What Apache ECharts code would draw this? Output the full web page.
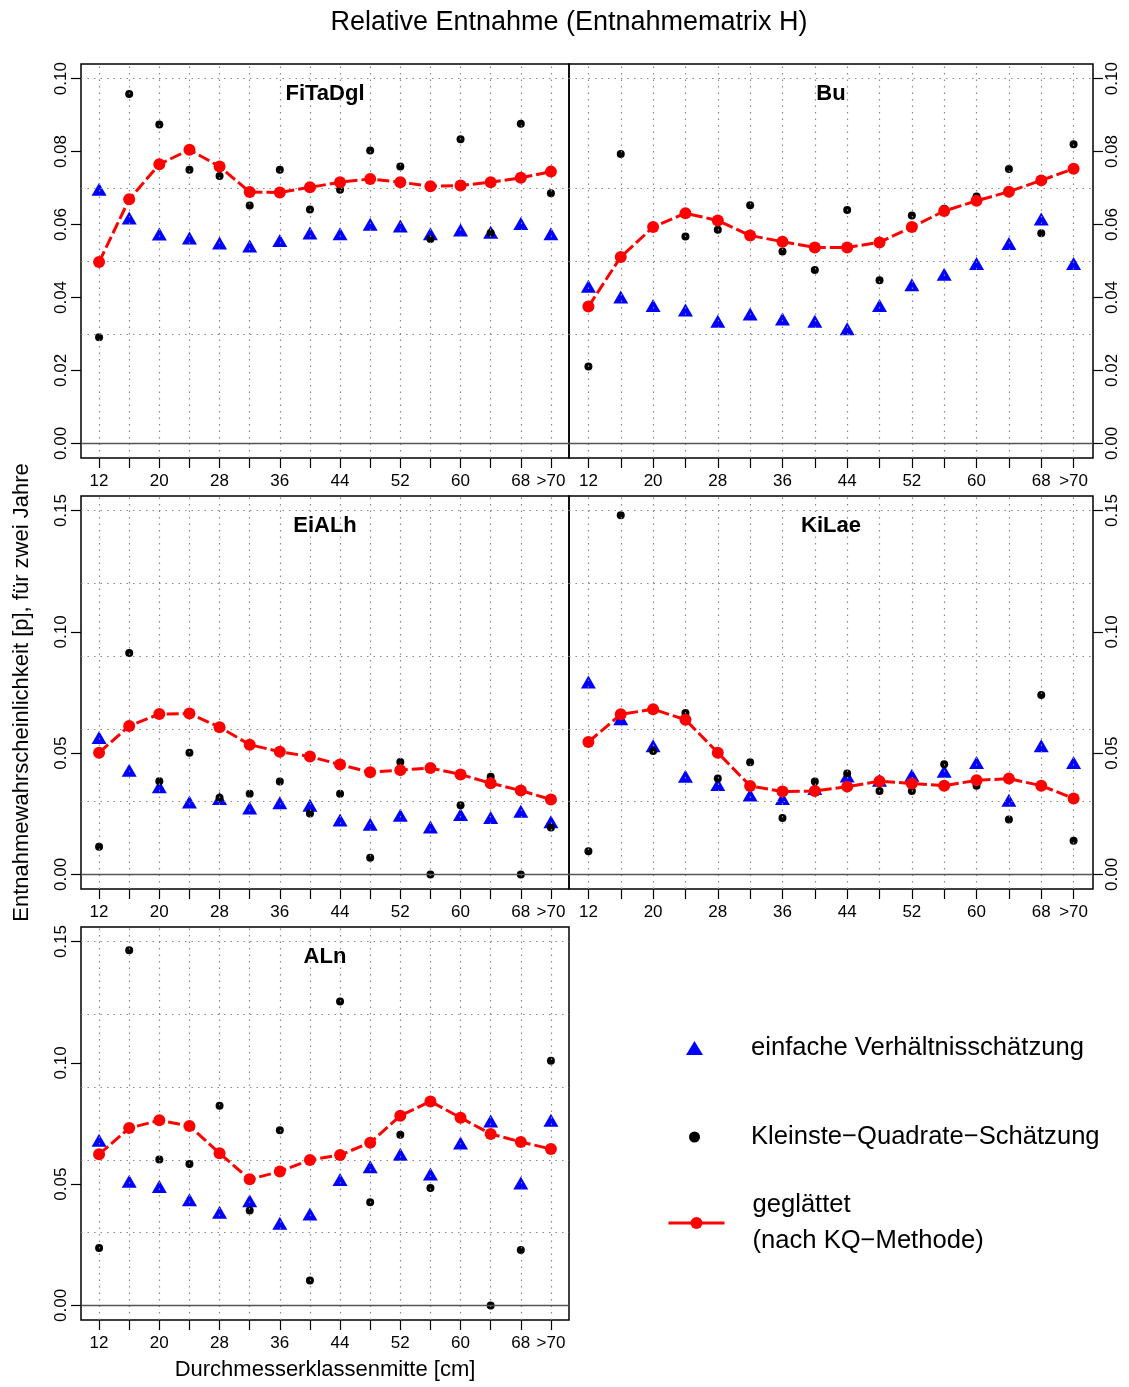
<!DOCTYPE html>
<html><head><meta charset="utf-8">
<script src="https://cdn.jsdelivr.net/npm/echarts@6/dist/echarts.min.js"></script>
<style>html,body{margin:0;padding:0;background:#fff}#c{width:1129px;height:1387px}</style>
</head><body><div id="c"></div>
<script>
// ---- data ----
const classMid = [12,16,20,24,28,32,36,40,44,48,52,56,60,64,68,72];
const xTickLabelPos = [12,20,28,36,44,52,60,68,72];
const xTickLabels = ['12','20','28','36','44','52','60','68','>70'];
const yTicksA = [0,0.02,0.04,0.06,0.08,0.10];
const yTicksB = [0,0.05,0.10,0.15];
const hLinesA = [0.025,0.05,0.075,0.10];
const hLinesB = [0.03,0.06,0.09,0.12,0.15];
const seriesNames = ['einfache Verhältnisschätzung','Kleinste\u2212Quadrate\u2212Schätzung','geglättet\n(nach KQ\u2212Methode)'];

const fitaTri = [0.0697,0.0618,0.0574,0.0563,0.0549,0.0541,0.0556,0.0577,0.0575,0.0601,0.0596,0.0575,0.0585,0.0579,0.0603,0.0575];
const fitaKQ  = [0.0291,0.0958,0.0874,0.0750,0.0733,0.0652,0.0750,0.0641,0.0695,0.0803,0.0759,0.0560,0.0834,0.0577,0.0876,0.0686];
const fitaSm  = [0.0497,0.0669,0.0765,0.0805,0.0759,0.0689,0.0688,0.0702,0.0716,0.0725,0.0716,0.0705,0.0707,0.0716,0.0728,0.0745];

const buTri = [0.0431,0.0401,0.0378,0.0366,0.0335,0.0355,0.0341,0.0335,0.0314,0.0378,0.0435,0.0464,0.0493,0.0548,0.0615,0.0493];
const buKQ  = [0.0211,0.0793,0.0590,0.0567,0.0586,0.0653,0.0526,0.0475,0.0640,0.0447,0.0625,0.0643,0.0677,0.0752,0.0576,0.0820];
const buSm  = [0.0375,0.0511,0.0593,0.0631,0.0611,0.0570,0.0553,0.0537,0.0537,0.0551,0.0593,0.0637,0.0665,0.0690,0.0721,0.0753];

const eiTri = [0.0564,0.0430,0.0361,0.0299,0.0313,0.0274,0.0296,0.0285,0.0224,0.0207,0.0244,0.0196,0.0247,0.0235,0.0261,0.0217];
const eiKQ  = [0.0114,0.0913,0.0384,0.0502,0.0316,0.0333,0.0383,0.0251,0.0333,0.0069,0.0464,0.0000,0.0285,0.0403,0.0000,0.0193];
const eiSm  = [0.0502,0.0612,0.0661,0.0663,0.0607,0.0535,0.0506,0.0486,0.0453,0.0421,0.0430,0.0439,0.0412,0.0376,0.0346,0.0309];

const kiTri = [0.0793,0.0642,0.0530,0.0405,0.0371,0.0327,0.0313,0.0354,0.0406,0.0388,0.0409,0.0425,0.0461,0.0306,0.0530,0.0461];
const kiKQ  = [0.0096,0.1481,0.0509,0.0666,0.0395,0.0462,0.0233,0.0383,0.0416,0.0344,0.0344,0.0454,0.0366,0.0226,0.0740,0.0139];
const kiSm  = [0.0546,0.0660,0.0681,0.0638,0.0502,0.0365,0.0342,0.0344,0.0362,0.0384,0.0375,0.0366,0.0388,0.0395,0.0366,0.0313];

const alTri = [0.0681,0.0512,0.0490,0.0436,0.0384,0.0432,0.0339,0.0377,0.0519,0.0572,0.0623,0.0542,0.0670,0.0760,0.0505,0.0763];
const alKQ  = [0.0237,0.1464,0.0602,0.0583,0.0823,0.0391,0.0722,0.0103,0.1253,0.0425,0.0704,0.0484,0.0774,0.0000,0.0229,0.1009];
const alSm  = [0.0623,0.0731,0.0763,0.0740,0.0627,0.0520,0.0552,0.0600,0.0620,0.0671,0.0782,0.0841,0.0774,0.0707,0.0674,0.0645];

// ---- layout ----
const FONT = '"Liberation Sans", Arial, Helvetica, sans-serif';
const panels = [
  {title:'FiTaDgl', tri:fitaTri, kq:fitaKQ, sm:fitaSm, yMax:0.10, ticks:yTicksA, lines:hLinesA, side:'left',  rect:{left:81,  top:64,  width:488, height:394}},
  {title:'Bu',      tri:buTri,   kq:buKQ,   sm:buSm,   yMax:0.10, ticks:yTicksA, lines:hLinesA, side:'right', rect:{left:569, top:64,  width:524, height:394}},
  {title:'EiALh',   tri:eiTri,   kq:eiKQ,   sm:eiSm,   yMax:0.15, ticks:yTicksB, lines:hLinesB, side:'left',  rect:{left:81,  top:496, width:488, height:393}},
  {title:'KiLae',   tri:kiTri,   kq:kiKQ,   sm:kiSm,   yMax:0.15, ticks:yTicksB, lines:hLinesB, side:'right', rect:{left:569, top:496, width:524, height:393}},
  {title:'ALn',     tri:alTri,   kq:alKQ,   sm:alSm,   yMax:0.15, ticks:yTicksB, lines:hLinesB, side:'left',  rect:{left:81,  top:927, width:488, height:393}}
];

const xPad = (classMid[classMid.length-1]-classMid[0])*0.04;
const legText = {fontSize:25.6, color:'#000', fontFamily:FONT};
const option = {
  animation:false,
  backgroundColor:'#fff',
  textStyle:{fontFamily:FONT},
  title:[{text:'Relative Entnahme (Entnahmematrix H)', left:569, top:9, textAlign:'center', padding:0,
          textStyle:{fontSize:27, fontWeight:'normal', color:'#000', fontFamily:FONT}}],
  grid:[], xAxis:[], yAxis:[], series:[],
  legend:[
    {left:686, top:1035, padding:0, selectedMode:false, itemWidth:17, itemHeight:14,
     data:[{name:seriesNames[0], icon:'triangle'}],
     textStyle:Object.assign({padding:[0,0,0,43]}, legText)},
    {left:689, top:1124, padding:0, selectedMode:false, itemWidth:11, itemHeight:11,
     data:[{name:seriesNames[1], icon:'circle'}],
     textStyle:Object.assign({padding:[0,0,0,46]}, legText)},
    {left:667, top:1187, padding:0, selectedMode:false, itemWidth:56, itemHeight:15,
     data:[{name:seriesNames[2]}], lineStyle:{type:'solid', width:3},
     textStyle:Object.assign({lineHeight:36, padding:[0,0,0,23]}, legText)}
  ]
};

panels.forEach((p,i)=>{
  const r = p.rect;
  option.grid.push({left:r.left, top:r.top, width:r.width, height:r.height, show:true,
    borderColor:'#000', borderWidth:1.5, backgroundColor:'transparent'});
  option.title.push({text:p.title, left:r.left + r.width/2, top:r.top + 19, textAlign:'center', padding:0,
    textStyle:{fontSize:22, fontWeight:'bold', color:'#000', fontFamily:FONT}});
  const xa = {type:'value', gridIndex:i, min:classMid[0]-xPad, max:classMid[classMid.length-1]+xPad,
    axisLine:{show:false, onZero:false}, splitLine:{show:false},
    axisTick:{show:true, customValues:classMid, length:10, lineStyle:{color:'#000', width:1.2}},
    axisLabel:{customValues:xTickLabelPos, formatter:v=>xTickLabels[xTickLabelPos.indexOf(v)],
      margin:15, fontSize:17, color:'#000', fontFamily:FONT}};
  if (i===4){ Object.assign(xa,{name:'Durchmesserklassenmitte [cm]', nameLocation:'middle', nameGap:39,
    nameTextStyle:{fontSize:22, color:'#000', fontFamily:FONT}}); }
  option.xAxis.push(xa);
  const ypad = p.yMax*0.04;
  const ya = {type:'value', gridIndex:i, position:p.side, min:-ypad, max:p.yMax+ypad,
    axisLine:{show:false, onZero:false}, splitLine:{show:false},
    axisTick:{show:true, customValues:p.ticks, length:10, lineStyle:{color:'#000', width:1.2}},
    axisLabel:{customValues:p.ticks, formatter:v=>v.toFixed(2), rotate:90, margin:11,
      fontSize:17, color:'#000', fontFamily:FONT}};
  if (i===2){ Object.assign(ya,{name:'Entnahmewahrscheinlichkeit [p], für zwei Jahre', nameLocation:'middle',
    nameGap:48, nameRotate:90, nameTextStyle:{fontSize:22, color:'#000', fontFamily:FONT}}); }
  option.yAxis.push(ya);

  const dotted = {type:[1.5,5], color:'#888', width:1.2};
  const mlData = classMid.map(v=>({xAxis:v, lineStyle:dotted}))
    .concat(p.lines.map(v=>({yAxis:v, lineStyle:dotted})))
    .concat([{yAxis:0, lineStyle:{type:'solid', color:'#555', width:1.3}}]);
  option.series.push({type:'line', name:'_grid'+i, xAxisIndex:i, yAxisIndex:i, data:[], z:1, silent:true,
    markLine:{symbol:['none','none'], silent:true, label:{show:false}, animation:false,
      emphasis:{disabled:true}, data:mlData}});
  option.series.push({type:'scatter', name:seriesNames[0], xAxisIndex:i, yAxisIndex:i, z:3,
    symbol:'triangle', symbolSize:[15,13], itemStyle:{color:'#0000ff', opacity:1},
    data:classMid.map((x,k)=>[x,p.tri[k]])});
  option.series.push({type:'scatter', name:seriesNames[1], xAxisIndex:i, yAxisIndex:i, z:4,
    symbol:'circle', symbolSize:8, itemStyle:{color:'#000', opacity:1},
    data:classMid.map((x,k)=>[x,p.kq[k]])});
  option.series.push({type:'line', name:seriesNames[2], xAxisIndex:i, yAxisIndex:i, z:5,
    symbol:'circle', symbolSize:12, itemStyle:{color:'#ff0000', opacity:1},
    lineStyle:{color:'#ff0000', width:3, type:[12,4]},
    data:classMid.map((x,k)=>[x,p.sm[k]])});
});

const chart = echarts.init(document.getElementById('c'), null, {renderer:'canvas'});
chart.setOption(option);
</script>
</body></html>
